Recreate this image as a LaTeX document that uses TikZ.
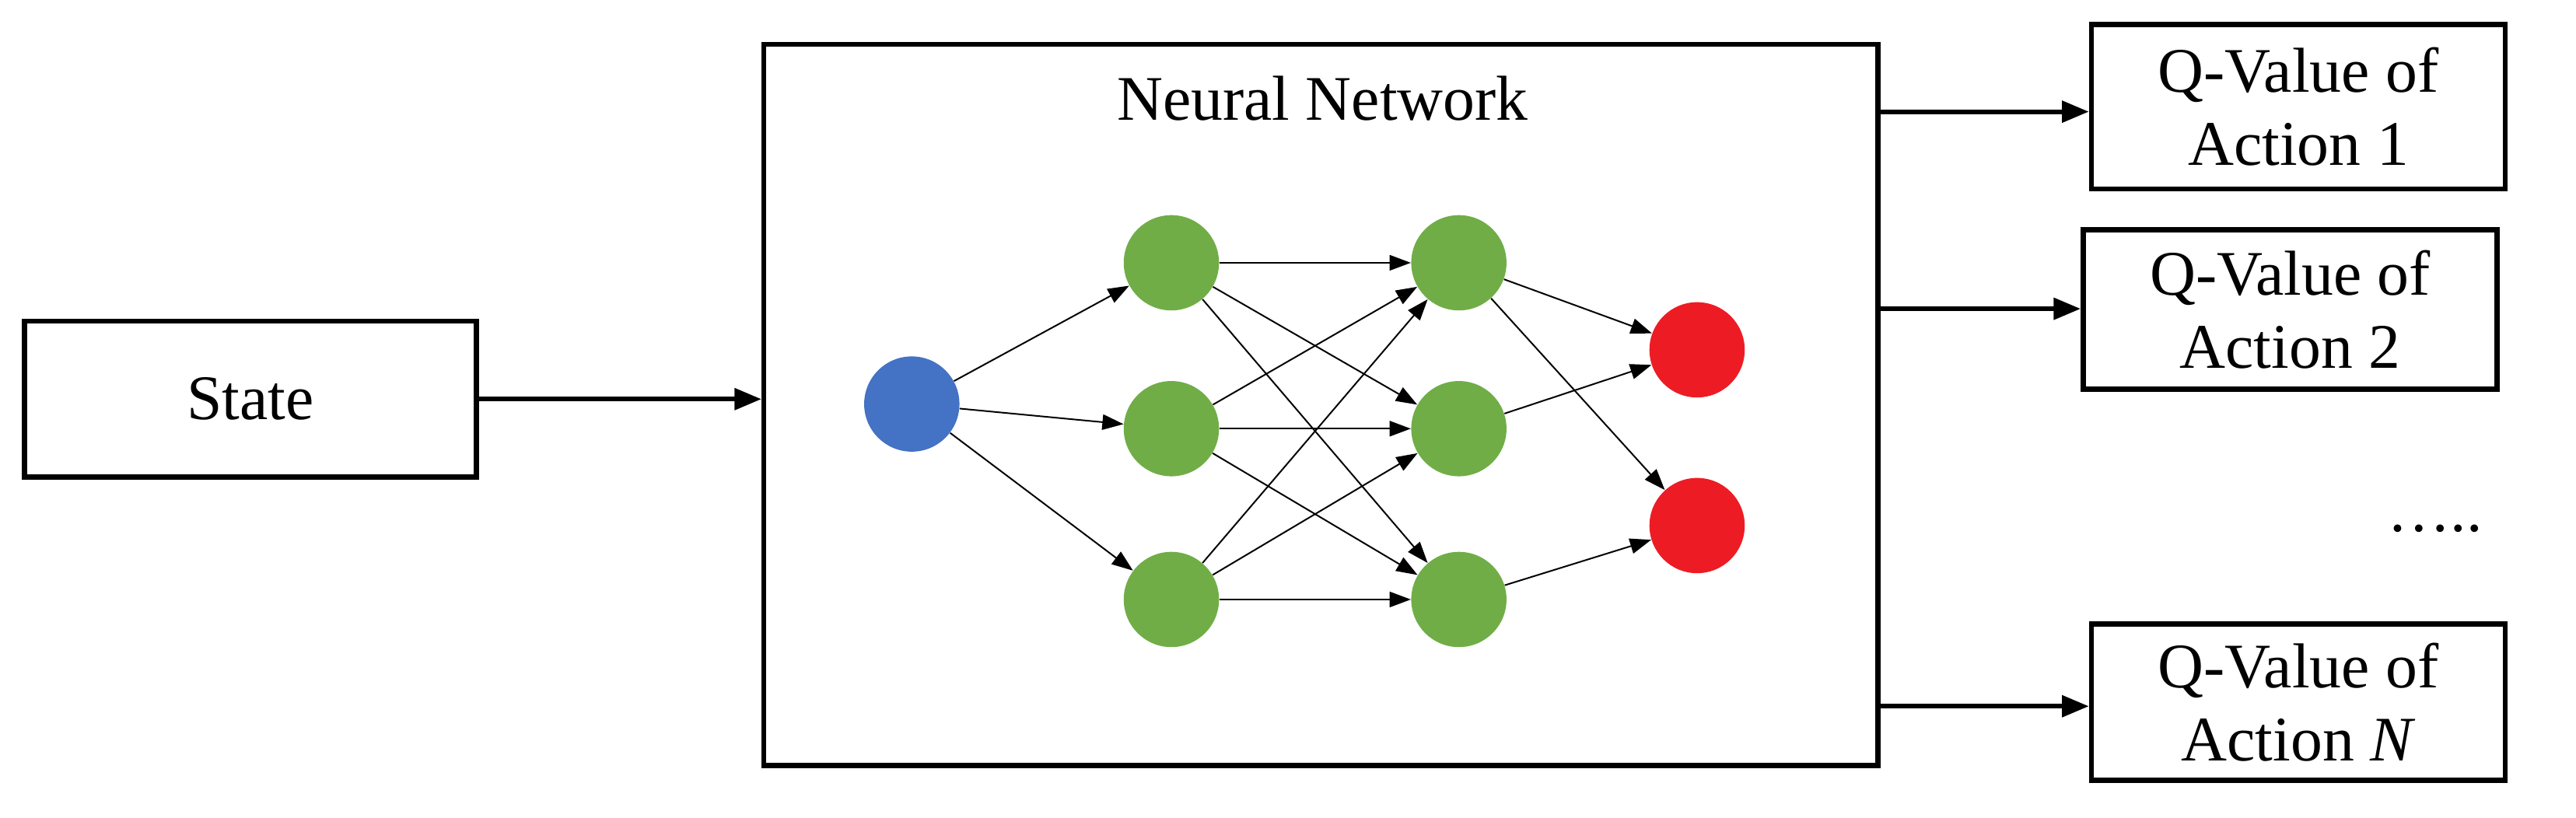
\documentclass[tikz,border=0pt]{standalone}
\usepackage{fontspec}
\setmainfont{Liberation Serif}
\usetikzlibrary{arrows.meta}
\begin{document}
\begin{tikzpicture}[x=0.3mm,y=-0.3mm,
 box/.style={draw,line width=2.6pt,inner sep=0pt,font=\fontsize{33}{38}\selectfont,align=center},
 thick arrow/.style={line width=2.4pt,-{Triangle[length=14pt,width=11pt]}},
 thin arrow/.style={line width=0.8pt,-{Triangle[length=11pt,width=8pt]}},
 neuron/.style={circle,minimum size=58*0.3mm,inner sep=0pt},
 g/.style={neuron,fill={rgb,255:red,112;green,173;blue,71}},
 r/.style={neuron,fill={rgb,255:red,237;green,28;blue,36}},
 b/.style={neuron,fill={rgb,255:red,68;green,114;blue,196}}]
\useasboundingbox (0,0) rectangle (1568,498);
\node[box,minimum width=275*0.3mm,minimum height=95*0.3mm] (state) at (152.5,243) {State};
\node[box,minimum width=678*0.3mm,minimum height=439*0.3mm] (nn) at (804,246.5) {};
\node[font=\fontsize{33}{38}\selectfont] (title) at (805,60) {Neural Network};
\node[box,minimum width=252*0.3mm,minimum height=100*0.3mm] (o1) at (1399,65) {Q-Value of\\Action 1};
\node[box,minimum width=252*0.3mm,minimum height=97*0.3mm] (o2) at (1394,188.5) {Q-Value of\\Action 2};
\node[box,minimum width=252*0.3mm,minimum height=95*0.3mm] (o3) at (1399,427.5) {Q-Value of\\Action \textit{N}};
\node[font=\fontsize{33}{38}\selectfont] (dots) at (1482,322) {…..};
\draw[thick arrow] (state.east) -- (nn.west|-state.east);
\coordinate (s1) at (nn.east|-0,68); \coordinate (s2) at (nn.east|-0,188); \coordinate (s3) at (nn.east|-0,430);
\draw[thick arrow] (s1) -- (o1.west|-s1);
\draw[thick arrow] (s2) -- (o2.west|-s2);
\draw[thick arrow] (s3) -- (o3.west|-s3);
\node[b] (in) at (555,246) {};
\node[g] (a1) at (713,160) {}; \node[g] (a2) at (713,261) {}; \node[g] (a3) at (713,365) {};
\node[g] (h1) at (888,160) {}; \node[g] (h2) at (888,261) {}; \node[g] (h3) at (888,365) {};
\node[r] (y1) at (1033,213) {}; \node[r] (y2) at (1033,320) {};
\foreach \a in {a1,a2,a3} \draw[thin arrow] (in) -- (\a);
\foreach \a in {a1,a2,a3} \foreach \h in {h1,h2,h3} \draw[thin arrow] (\a) -- (\h);
\draw[thin arrow] (h1) -- (y1); \draw[thin arrow] (h1) -- (y2);
\draw[thin arrow] (h2) -- (y1); \draw[thin arrow] (h3) -- (y2);
\end{tikzpicture}
\end{document}
